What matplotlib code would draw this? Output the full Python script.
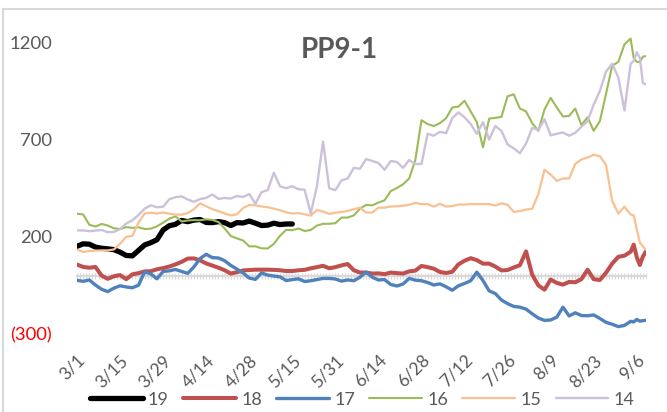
import matplotlib
matplotlib.use("Agg")
import matplotlib.pyplot as plt
from matplotlib.lines import Line2D

plt.rcParams["font.family"] = ["Lato", "DejaVu Sans"]

GRAY, GRID = "#595959", "#d9d9d9"

# ---- data (category index = trading day, every 2nd day) ----
idx = list(range(0, 181, 2)) + [181, 182, 183, 184, 185]
label_pos = list(range(0, 183, 14))
date_labels = ["3/1", "3/15", "3/29", "4/14", "4/28", "5/15", "5/31",
               "6/14", "6/28", "7/12", "7/26", "8/9", "8/23", "9/6"]

s19 = [151, 164, 162, 147, 141, 138, 134, 121, 104, 102,
       130, 158, 170, 185, 235, 257, 264, 284, 278, 286,
       289, 274, 273, 278, 273, 258, 273, 271, 281, 270,
       258, 260, 270, 263, 266, 266]
s18 = [57, 45, 41, 45, 0, -16, -3, 3, -18, 7,
       13, 22, 23, 33, 39, 47, 58, 71, 88, 89,
       79, 63, 52, 41, 28, 11, 18, 27, 29, 31,
       31, 31, 30, 28, 24, 24, 28, 30, 38, 44,
       51, 38, 44, 53, 60, 28, 16, 16, 11, 12,
       8, 16, 13, 11, 22, 26, 50, 44, 36, 19,
       14, 20, 58, 77, 90, 80, 62, 62, 47, 27,
       29, 42, 54, 125, 5, -50, -72, -20, -37, -46,
       -32, -34, -18, 31, -18, -22, 15, 62, 97, 103,
       123, 160, 95, 55, 99, 125]
s17 = [-24, -29, -22, -48, -70, -82, -64, -52, -58, -62,
       -49, 20, 9, -16, 22, 25, 32, 22, 12, 45,
       88, 110, 93, 91, 77, 53, 34, 14, -12, -19,
       14, 3, -2, -6, -25, -20, -16, -30, -26, -20,
       -14, -14, -17, -28, -22, -26, -8, 19, -8, -22,
       -20, -45, -53, -43, -14, -23, -26, -35, -48, -42,
       -57, -75, -52, -40, -26, 18, -25, -78, -92, -125,
       -144, -158, -162, -172, -196, -218, -230, -228, -213, -162,
       -207, -191, -205, -206, -202, -220, -240, -250, -262, -256,
       -235, -238, -225, -234, -231, -230]
s16 = [319, 315, 262, 253, 266, 258, 244, 240, 250, 246,
       249, 240, 242, 254, 273, 293, 305, 279, 284, 286,
       285, 290, 287, 276, 243, 204, 192, 181, 151, 151,
       141, 140, 164, 205, 236, 234, 243, 230, 235, 258,
       267, 267, 270, 299, 299, 310, 345, 364, 362, 376,
       388, 435, 451, 470, 500, 595, 800, 780, 770, 785,
       810, 865, 870, 900, 845, 790, 660, 808, 812, 817,
       923, 933, 860, 845, 785, 745, 855, 915, 865, 819,
       822, 860, 775, 815, 745, 795, 935, 1080, 1100, 1190,
       1220, 1120, 1100, 1100, 1127, 1130]
s15 = [134, 122, 127, 129, 130, 130, 135, 164, 200, 205,
       273, 320, 324, 320, 325, 319, 314, 314, 322, 342,
       372, 357, 342, 332, 320, 310, 316, 348, 364, 362,
       356, 352, 345, 337, 326, 320, 322, 316, 309, 338,
       330, 318, 324, 328, 333, 342, 350, 325, 325, 350,
       350, 356, 357, 360, 365, 375, 368, 368, 355, 370,
       356, 358, 366, 366, 369, 368, 369, 368, 361, 372,
       365, 328, 332, 340, 345, 420, 545, 520, 488, 500,
       500, 575, 598, 608, 622, 615, 570, 385, 320, 355,
       315, 310, 240, 170, 150, 134]
s14 = [233, 233, 229, 232, 235, 224, 225, 240, 268, 285,
       312, 345, 362, 352, 355, 393, 404, 408, 392, 380,
       394, 400, 418, 395, 400, 397, 410, 405, 420, 370,
       430, 440, 530, 460, 450, 460, 445, 442, 320, 460,
       690, 450, 440, 490, 500, 555, 550, 600, 590, 580,
       545, 590, 585, 555, 595, 575, 575, 730, 720, 740,
       733, 810, 840, 815, 780, 730, 790, 700, 770, 745,
       675, 655, 630, 680, 760, 750, 805, 722, 730, 737,
       720, 735, 766, 795, 880, 950, 1050, 1090, 1020, 850,
       1090, 1105, 1150, 1120, 990, 985]

series = [("19", s19, "#000000", 3.8),
          ("18", s18, "#C0504D", 2.9),
          ("17", s17, "#4F81BD", 2.4),
          ("16", s16, "#9BBB59", 1.5),
          ("15", s15, "#FAC090", 1.6),
          ("14", s14, "#CCC1DA", 1.7)]

fig = plt.figure(figsize=(6.67, 4.12), dpi=100)
ax = fig.add_axes([77 / 667, 1 - 334 / 412, (646 - 77) / 667, (334 - 23) / 412])

handles = []
for name, vals, col, lw in series:
    h, = ax.plot(idx[:len(vals)], vals, color=col, lw=lw, label=name,
                 solid_joinstyle="round", solid_capstyle="round")
    handles.append(h)

ax.set_xlim(0, 185)
ax.set_ylim(-300, 1300)

# category axis crosses at zero, comb of ticks at every category
for s in ("top", "right", "left"):
    ax.spines[s].set_visible(False)
ax.spines["bottom"].set_position(("data", 0))
ax.spines["bottom"].set_color(GRID)
ax.spines["bottom"].set_linewidth(1.5)
ax.spines["bottom"].set_zorder(0.5)
ax.set_xticks([])
ax.set_xticks(range(186), minor=True)
ax.tick_params(axis="x", which="minor", direction="inout", length=5, width=0.9,
               color=GRID, labelbottom=False)

# date labels sit at the bottom of the plot area
sec = ax.secondary_xaxis("bottom")
sec.spines["bottom"].set_visible(False)
sec.set_xticks(label_pos)
sec.set_xticklabels(date_labels, rotation=45, ha="right", rotation_mode="anchor",
                    fontsize=12.5, color=GRAY)
sec.tick_params(length=0, pad=13)

ax.set_yticks([-300, 200, 700, 1200])
ax.set_yticklabels(["(300)", "200", "700", "1200"], fontsize=13.3, color=GRAY)
ax.get_yticklabels()[0].set_color("#FF0000")
ax.tick_params(axis="y", length=0, pad=18)

fig.text(0.508, 0.879, "PP9-1", fontsize=20, fontweight="bold", color=GRAY,
         ha="center", va="center")

leg = fig.legend(handles=handles, loc="center", bbox_to_anchor=(0.543, 0.03), ncol=6,
                 frameon=False, fontsize=13, handlelength=2.9, handletextpad=0.3,
                 columnspacing=0.8)
for t in leg.get_texts():
    t.set_color(GRAY)

# chart area border (top and left edges visible)
fig.add_artist(Line2D([3 / 667, 1], [1 - 8.5 / 412] * 2, color=GRID, lw=1.5))
fig.add_artist(Line2D([3 / 667] * 2, [0, 1 - 8.5 / 412], color=GRID, lw=1.5))

fig.savefig("out.png", dpi=100)
